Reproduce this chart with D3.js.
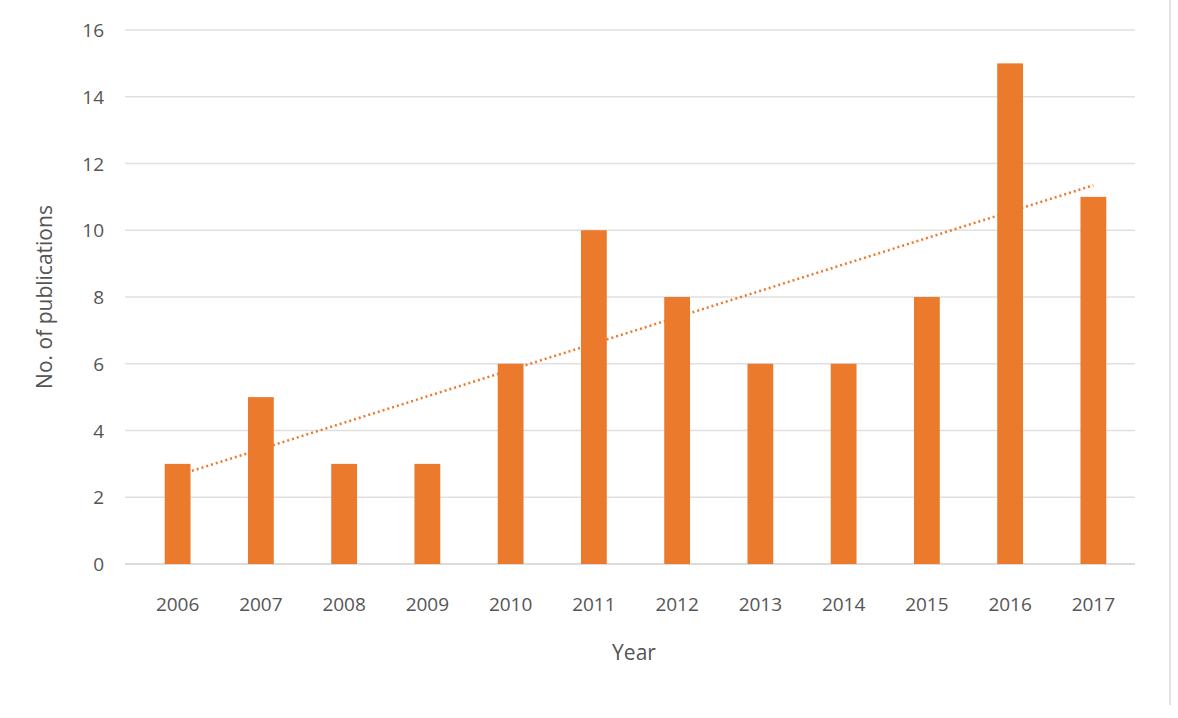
<!DOCTYPE html>
<html><head><meta charset="utf-8">
<script src="https://cdn.jsdelivr.net/npm/d3@7"></script>
<style>body{margin:0;background:#fff}</style>
</head><body><div id="chart"></div>
<script>
const years = ['2006','2007','2008','2009','2010','2011','2012','2013','2014','2015','2016','2017']
const pubs = [3, 5, 3, 3, 6, 10, 8, 6, 6, 8, 15, 11]
const yTicks = [0, 2, 4, 6, 8, 10, 12, 14, 16]

const width = 1178, height = 718
const svg = d3.select('#chart').append('svg')
  .attr('width', width).attr('height', height)
  .style('font-family', '"Open Sans", sans-serif')

const x = d3.scaleBand().domain(years).range([136, 1135]).paddingInner(0.69).paddingOuter(0.345)
const y = d3.scaleLinear().domain([0, 16]).range([564, 30])

// gridlines
svg.selectAll('.grid').data(yTicks).join('line')
  .attr('x1', 125).attr('x2', 1135)
  .attr('y1', d => y(d)).attr('y2', d => y(d))
  .attr('stroke', d => d === 0 ? '#cfcfcf' : '#e0e0e0').attr('stroke-width', 1.5)

// y tick labels
svg.selectAll('.yl').data(yTicks).join('text')
  .attr('x', 104).attr('y', d => y(d) + 7)
  .attr('text-anchor', 'end').attr('font-size', 19).attr('fill', '#555')
  .text(d => d)

// bars
svg.selectAll('.bar').data(pubs).join('rect')
  .attr('x', (d, i) => x(years[i])).attr('width', x.bandwidth())
  .attr('y', d => y(d)).attr('height', d => y(0) - y(d))
  .attr('fill', '#EB7A2C')

// x labels
svg.selectAll('.xl').data(years).join('text')
  .attr('x', d => x(d) + x.bandwidth() / 2).attr('y', 611)
  .attr('text-anchor', 'middle').attr('font-size', 19).attr('fill', '#555')
  .text(d => d)

// linear trendline (least squares)
const n = pubs.length
const mx = d3.mean(pubs, (d, i) => i), my = d3.mean(pubs)
const slope = d3.sum(pubs, (d, i) => (i - mx) * (d - my)) / d3.sum(pubs, (d, i) => (i - mx) ** 2)
const icpt = my - slope * mx
const cx = i => x(years[i]) + x.bandwidth() / 2
svg.append('line')
  .attr('x1', cx(0)).attr('y1', y(icpt))
  .attr('x2', cx(n - 1)).attr('y2', y(icpt + slope * (n - 1)))
  .attr('stroke', '#EB7A2C').attr('stroke-width', 2.5).attr('stroke-dasharray', '2,3')

// axis titles
svg.append('text').attr('x', 634).attr('y', 660).attr('text-anchor', 'middle')
  .attr('font-size', 21).attr('fill', '#555').text('Year')
svg.append('text').attr('transform', 'translate(52,297) rotate(-90)').attr('text-anchor', 'middle')
  .attr('font-size', 21).attr('fill', '#555').text('No. of publications')

// frame edge
svg.append('line').attr('x1', 1170).attr('x2', 1170).attr('y1', 0).attr('y2', 705)
  .attr('stroke', '#d9d9d9').attr('stroke-width', 1.5)
</script></body></html>
